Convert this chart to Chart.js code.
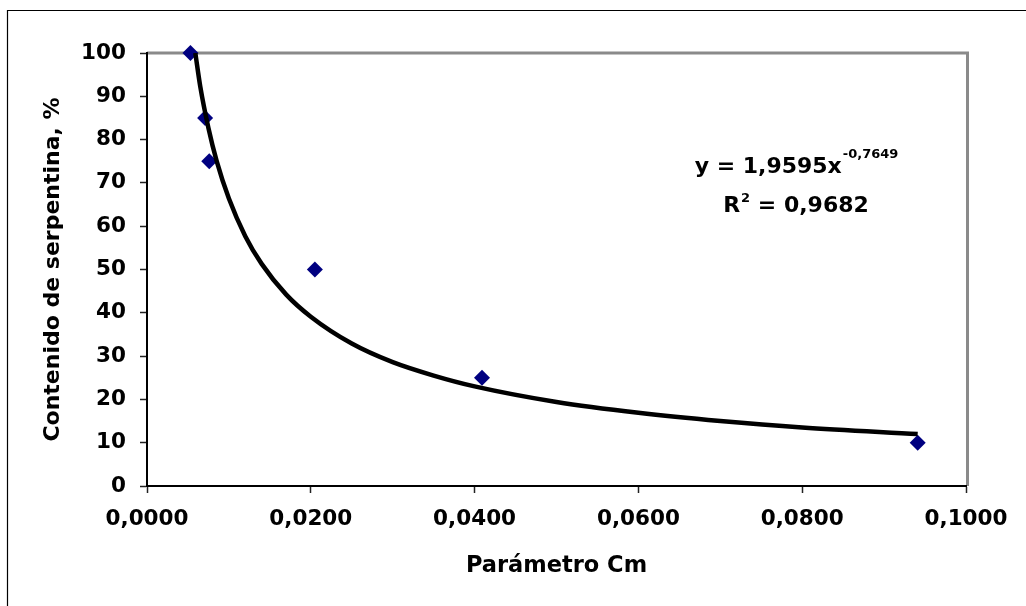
<!DOCTYPE html>
<html>
<head>
<meta charset="utf-8">
<script src="https://cdn.jsdelivr.net/npm/chart.js@4.4.1/dist/chart.umd.min.js"></script>
<style>
  html, body { margin: 0; padding: 0; background: #ffffff; }
  #wrap { width: 1026px; height: 606px; position: relative; }
</style>
</head>
<body>
<div id="wrap"><canvas id="c"></canvas></div>
<script>
// ---- data ----
const cmValues = [0.0053, 0.0071, 0.0076, 0.0205, 0.0409, 0.0941];
const serpentinaValues = [100, 85, 75, 50, 25, 10];

// trend line, points
const trendX = [0.0059, 0.0065, 0.0075, 0.0085, 0.0100, 0.0120, 0.0140, 0.0170, 0.0200, 0.0250, 0.0300, 0.0350, 0.0400, 0.0500, 0.0600, 0.0700, 0.0800, 0.0941];
const trendY = [100, 92.3, 82.7, 75.1, 66.4, 57.7, 51.3, 44.2, 39.1, 32.9, 28.6, 25.5, 23.0, 19.4, 16.9, 15.0, 13.5, 12.0];

const xTickLabels = ['0,0000', '0,0200', '0,0400', '0,0600', '0,0800', '0,1000'];
const yTickLabels = ['0', '10', '20', '30', '40', '50', '60', '70', '80', '90', '100'];

const xTitle = 'Parámetro Cm';
const yTitle = 'Contenido de serpentina, %';
const eqMain = 'y = 1,9595x';
const eqExp = '-0,7649';
const r2Main = 'R';
const r2Exp = '2';
const r2Rest = ' = 0,9682';

const FONT = "'DejaVu Sans', 'Liberation Sans', Arial, sans-serif";

const scatterPoints = cmValues.map((x, i) => ({ x: x, y: serpentinaValues[i] }));
const trendPoints = trendX.map((x, i) => ({ x: x, y: trendY[i] }));

const decorPlugin = {
  id: 'decor',
  beforeDraw(chart) {
    const ctx = chart.ctx;
    const a = chart.chartArea;
    ctx.save();
    // outer frame (left and top edges visible)
    ctx.strokeStyle = '#000000';
    ctx.lineWidth = 1.2;
    ctx.beginPath();
    ctx.moveTo(7.5, 606);
    ctx.lineTo(7.5, 10.5);
    ctx.lineTo(1026, 10.5);
    ctx.stroke();
    // plot area gray frame (top & right)
    ctx.strokeStyle = '#8a8a8a';
    ctx.lineWidth = 3;
    ctx.beginPath();
    ctx.moveTo(a.left, a.top);
    ctx.lineTo(a.right + 1.5, a.top);
    ctx.lineTo(a.right + 1.5, a.bottom);
    ctx.stroke();
    ctx.restore();
  },
  afterDraw(chart) {
    const ctx = chart.ctx;
    ctx.save();
    ctx.fillStyle = '#000000';
    ctx.textBaseline = 'alphabetic';
    ctx.textAlign = 'left';
    const big = 'bold 22px ' + FONT;
    const small = 'bold 13px ' + FONT;
    const cx = 796;
    // line 1
    ctx.font = big;
    const w1 = ctx.measureText(eqMain).width;
    ctx.font = small;
    const w1e = ctx.measureText(eqExp).width;
    let x0 = cx - (w1 + w1e) / 2;
    ctx.font = big;
    ctx.fillText(eqMain, x0, 173);
    ctx.font = small;
    ctx.fillText(eqExp, x0 + w1 + 1, 158);
    // line 2
    ctx.font = big;
    const wR = ctx.measureText(r2Main).width;
    const wRest = ctx.measureText(r2Rest).width;
    ctx.font = small;
    const wE = ctx.measureText(r2Exp).width;
    x0 = cx - (wR + wE + wRest + 1) / 2;
    ctx.font = big;
    ctx.fillText(r2Main, x0, 211.5);
    ctx.font = small;
    ctx.fillText(r2Exp, x0 + wR + 1, 201.5);
    ctx.font = big;
    ctx.fillText(r2Rest, x0 + wR + wE + 1, 211.5);
    ctx.restore();
  }
};

new Chart(document.getElementById('c'), {
  type: 'scatter',
  data: {
    datasets: [
      {
        label: 'Tendencia',
        type: 'line',
        data: trendPoints,
        borderColor: '#000000',
        borderWidth: 4.5,
        pointRadius: 0,
        fill: false,
        cubicInterpolationMode: 'monotone',
        order: 0
      },
      {
        label: 'Datos',
        data: scatterPoints,
        pointStyle: 'rectRot',
        pointRadius: 8,
        pointHoverRadius: 8,
        backgroundColor: '#000080',
        borderColor: '#000080',
        borderWidth: 0,
        clip: false,
        order: 1
      }
    ]
  },
  options: {
    responsive: true,
    maintainAspectRatio: false,
    animation: false,
    devicePixelRatio: 1,
    layout: { padding: { left: 0, right: 60, top: 53, bottom: 0 } },
    plugins: {
      legend: { display: false },
      tooltip: { enabled: false },
      title: { display: false }
    },
    scales: {
      x: {
        type: 'linear',
        min: 0,
        max: 0.1,
        afterFit(scale) { scale.height = 120; },
        afterBuildTicks(scale) {
          scale.ticks = xTickLabels.map((t, i) => ({ value: i * 0.02 }));
        },
        ticks: {
          color: '#000000',
          font: { family: FONT, size: 21.5, weight: 'bold' },
          padding: 14,
          maxRotation: 0,
          autoSkip: false,
          callback: (v, i) => xTickLabels[i]
        },
        grid: {
          drawOnChartArea: false,
          drawTicks: true,
          tickLength: 7,
          tickColor: '#222222',
          tickWidth: 1.5
        },
        border: { display: true, color: '#000000', width: 2 },
        title: {
          display: true,
          text: xTitle,
          color: '#000000',
          font: { family: FONT, size: 22.5, weight: 'bold', lineHeight: 1.2 },
          padding: { top: 0, bottom: 26 }
        }
      },
      y: {
        type: 'linear',
        min: 0,
        max: 100,
        afterFit(scale) { scale.width = 147; },
        afterBuildTicks(scale) {
          scale.ticks = yTickLabels.map((t, i) => ({ value: i * 10 }));
        },
        ticks: {
          color: '#000000',
          font: { family: FONT, size: 21.5, weight: 'bold' },
          padding: 14,
          autoSkip: false,
          callback: (v, i) => yTickLabels[i]
        },
        grid: {
          drawOnChartArea: false,
          drawTicks: true,
          tickLength: 7,
          tickColor: '#222222',
          tickWidth: 1.5
        },
        border: { display: true, color: '#000000', width: 2 },
        title: {
          display: true,
          text: yTitle,
          color: '#000000',
          font: { family: FONT, size: 22, weight: 'bold', lineHeight: 1.2 },
          padding: { top: 40, bottom: 0 }
        }
      }
    }
  },
  plugins: [decorPlugin]
});
</script>
</body>
</html>
